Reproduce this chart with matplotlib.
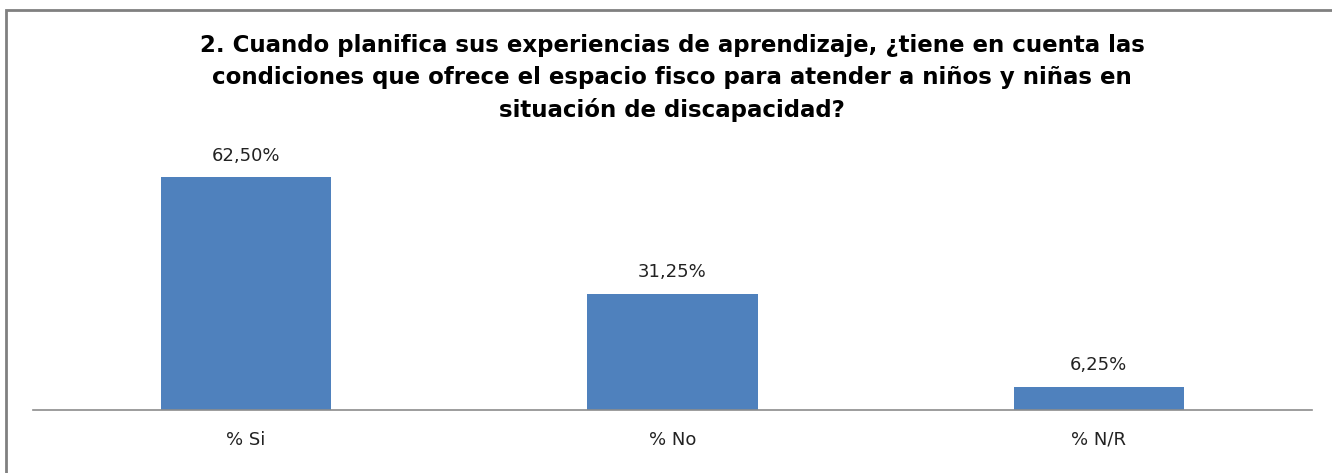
import matplotlib
matplotlib.use("Agg")
import matplotlib.pyplot as plt
from matplotlib.patches import Rectangle

categories = ["% Si", "% No", "% N/R"]
values = [62.50, 31.25, 6.25]
value_labels = ["62,50%", "31,25%", "6,25%"]
title = ("2. Cuando planifica sus experiencias de aprendizaje, ¿tiene en cuenta las\n"
         "condiciones que ofrece el espacio fisco para atender a niños y niñas en\n"
         "situación de discapacidad?")

W, H = 1332, 473
fig = plt.figure(figsize=(W / 100, H / 100), dpi=100)
fig.patch.set_facecolor("white")

# outer chart frame (cut off at right and bottom like the screenshot)
fig.patches.append(Rectangle((5.5 / W, -0.1), 1.2, 1 - 10 / H + 0.1,
                             transform=fig.transFigure, fill=False,
                             edgecolor="#808080", linewidth=2))

ax = fig.add_axes([33 / W, 1 - 410 / H, (1312 - 33) / W, (410 - 150) / H])
x = range(len(categories))
ax.bar(x, values, width=0.4, color="#4F81BD")
for i, (v, lab) in enumerate(zip(values, value_labels)):
    ax.annotate(lab, (i, v), xytext=(0, 9), textcoords="offset points",
                ha="center", va="bottom", fontsize=13, color="#222222")

ax.set_xlim(-0.5, 2.5)
ax.set_ylim(0, 62.5 * (410 - 150) / (410 - 177))
ax.set_xticks(list(x))
ax.set_xticklabels(categories, fontsize=13, color="#222222")
ax.tick_params(axis="x", length=0, pad=15)
ax.set_yticks([])
for s in ["top", "right", "left"]:
    ax.spines[s].set_visible(False)
ax.spines["bottom"].set_color("#8c8c8c")
ax.spines["bottom"].set_linewidth(1.2)

fig.text(672 / W, 1 - 34 / H, title, ha="center", va="top",
         fontsize=16.5, fontweight="bold", family="DejaVu Sans",
         linespacing=1.5)

fig.savefig("out.png", dpi=100)
